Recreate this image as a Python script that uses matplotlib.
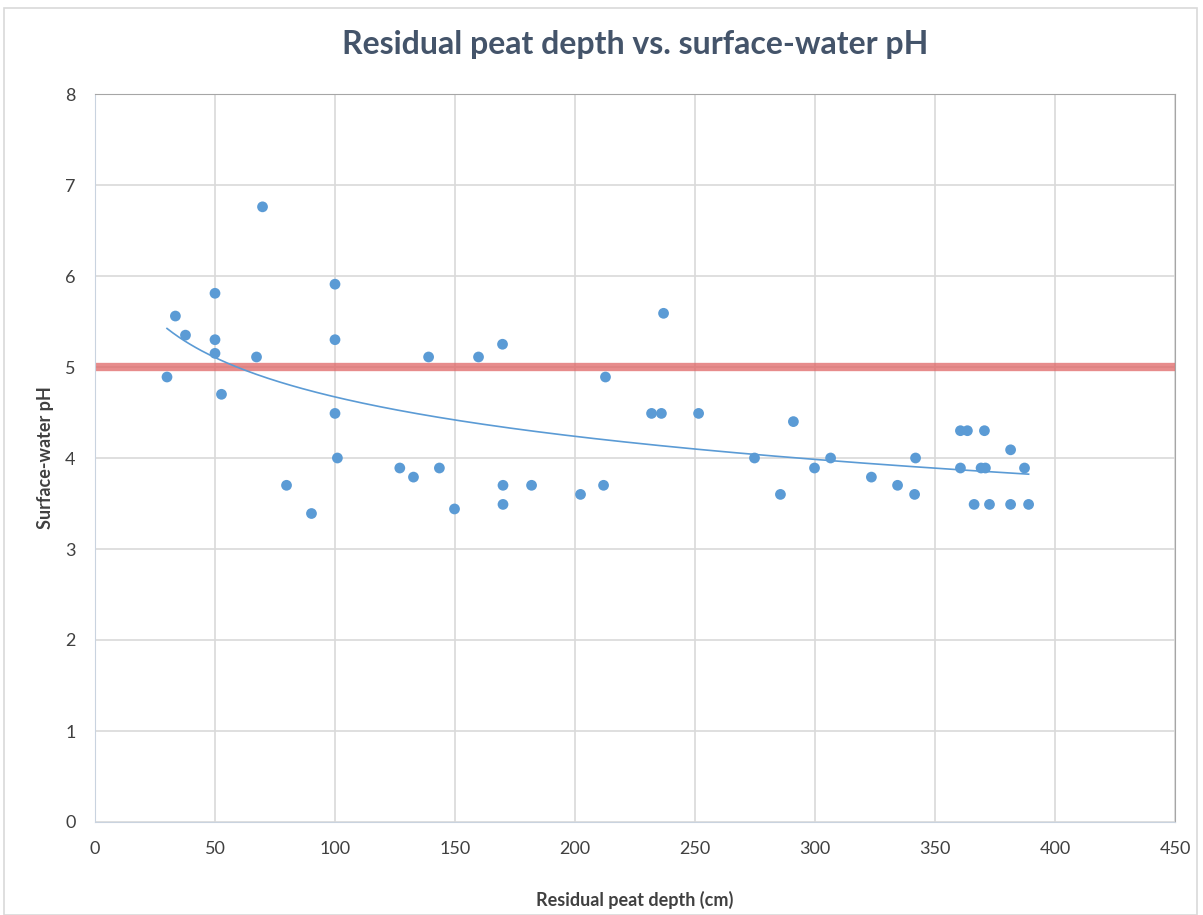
import numpy as np
import matplotlib.pyplot as plt
from matplotlib.patches import Rectangle

# residual peat depth (cm) and surface-water pH
depth = [30, 33.5, 37.7, 50, 50, 50, 52.7, 67.3, 69.8, 79.8, 90.2,
         100, 100, 100, 101, 127, 132.7, 139, 143.5, 149.8, 159.8, 169.8,
         170, 170, 181.9, 202.3, 211.9, 212.7, 231.9, 236, 236.9, 251.5,
         274.8, 285.6, 291, 299.8, 306.5, 323.5, 334.4, 341.9, 341.5,
         360.6, 363.5, 360.6, 366.3, 369.2, 371, 370.6, 372.7, 381.5, 381.5,
         387.3, 389]
ph = [4.89, 5.56, 5.35, 5.81, 5.30, 5.15, 4.70, 5.11, 6.76, 3.70, 3.39,
      5.91, 5.30, 4.49, 4.00, 3.89, 3.79, 5.11, 3.89, 3.44, 5.11, 5.25,
      3.70, 3.49, 3.70, 3.60, 3.70, 4.89, 4.49, 4.49, 5.59, 4.49,
      4.00, 3.60, 4.40, 3.89, 4.00, 3.79, 3.70, 4.00, 3.60,
      4.30, 4.30, 3.89, 3.49, 3.89, 3.89, 4.30, 3.49, 4.09, 3.49,
      3.89, 3.49]
threshold_ph = 5.0

x_ticks = np.arange(0, 451, 50)
y_ticks = np.arange(0, 9, 1)

depth = np.array(depth)
ph = np.array(ph)

# logarithmic trend line, as in the spreadsheet
b, a = np.polyfit(np.log(depth), ph, 1)
xt = np.linspace(depth.min(), depth.max(), 300)
yt = a + b * np.log(xt)

plt.rcParams['font.family'] = ['Lato', 'DejaVu Sans']
text_col = '#404040'

fig = plt.figure(figsize=(12.03, 9.15), dpi=100)
fig.patches.append(Rectangle((4 / 1203, 0.0), 1 - 10 / 1203, 1 - 8 / 915,
                             transform=fig.transFigure, fill=False,
                             edgecolor='#d9d9d9', linewidth=1.2))

ax = fig.add_axes([95 / 1203, 1 - 822 / 915, 1080 / 1203, 728 / 915])
ax.axhline(threshold_ph, color='#e06666', alpha=0.75, linewidth=6, zorder=2)
ax.plot(xt, yt, color='#5b9bd5', linewidth=1.2, zorder=3)
ax.scatter(depth, ph, s=60, color='#5b9bd5', edgecolors='none', zorder=4)

ax.set_xlim(0, 450)
ax.set_ylim(0, 8)
ax.set_xticks(x_ticks)
ax.set_yticks(y_ticks)
ax.grid(True, color='#d9d9d9', linewidth=1.2)
ax.set_axisbelow(True)
ax.tick_params(length=0, labelsize=13, colors=text_col, pad=14)
for side in ['left', 'bottom']:
    ax.spines[side].set_color('#c9d3df')
for side in ['top', 'right']:
    ax.spines[side].set_color('#a6a6a6')

ax.set_title('Residual peat depth vs. surface-water pH', fontsize=23,
             fontweight='bold', color='#44546a', pad=29)
ax.set_xlabel('Residual peat depth (cm)', fontsize=13, fontweight='bold',
              color=text_col, labelpad=24)
ax.set_ylabel('Surface-water pH', fontsize=13, fontweight='bold',
              color=text_col, labelpad=8)

fig.savefig('out.png', dpi=100)
